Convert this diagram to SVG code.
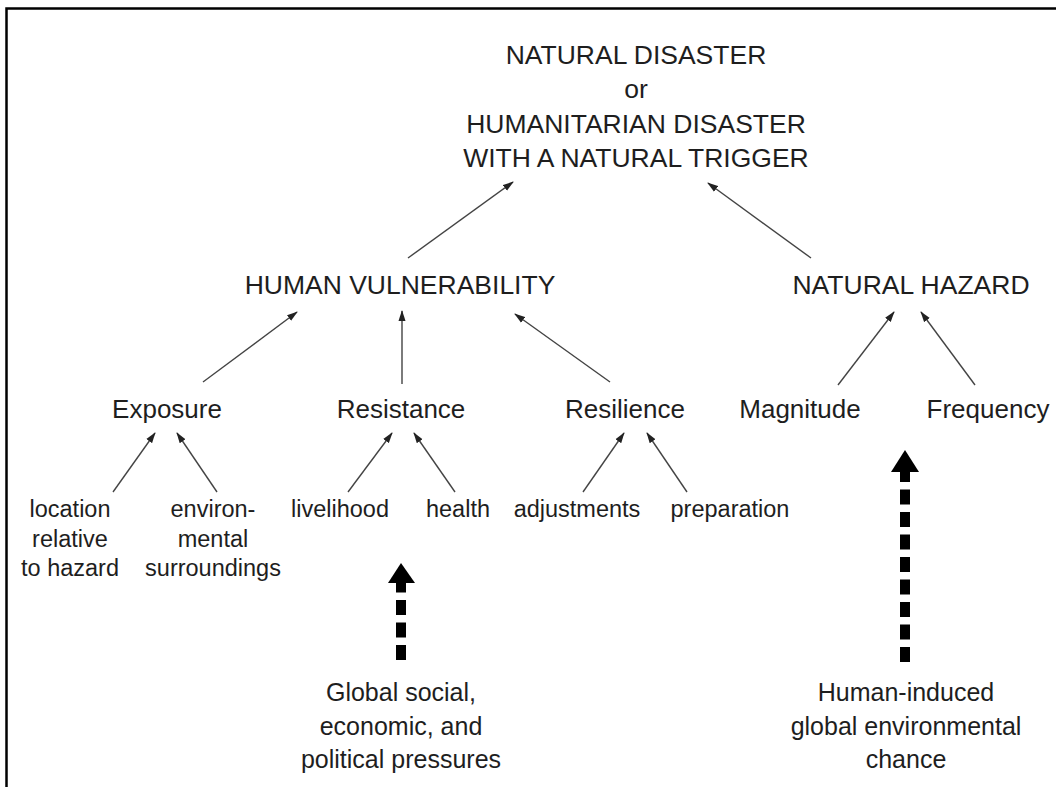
<svg xmlns="http://www.w3.org/2000/svg" width="1056" height="787" viewBox="0 0 1056 787">
<defs>
<marker id="ah" markerUnits="userSpaceOnUse" markerWidth="11" markerHeight="8" refX="10" refY="4" orient="auto">
<path d="M0,0.5 L11,4 L0,7.5 z" fill="#222"/>
</marker>
<style>
text{font-family:"Liberation Sans",Arial,sans-serif;fill:#1e1e1e;text-anchor:middle}
.t0{font-size:26.5px}
.t1{font-size:26.5px}
.t2{font-size:26px}
.t3{font-size:23.5px}
.t4{font-size:25px}
.c{stroke:#444;stroke-width:1.4;fill:none;marker-end:url(#ah)}
.d{stroke:#000;stroke-width:10;fill:none;stroke-dasharray:15 7.5}
.frame{stroke:#000;stroke-width:2.5;fill:none}
</style>
</defs>
<rect width="1056" height="787" fill="#fff"/>
<path class="frame" d="M6.5,787 V8.5 H1056"/>

<g id="connectors">
<line class="c" x1="408" y1="258" x2="513" y2="182"/>
<line class="c" x1="811" y1="258" x2="708" y2="183"/>
<line class="c" x1="203" y1="382" x2="297" y2="312"/>
<line class="c" x1="402" y1="384" x2="402" y2="311"/>
<line class="c" x1="610" y1="382" x2="515" y2="314"/>
<line class="c" x1="838" y1="385" x2="894" y2="312"/>
<line class="c" x1="975" y1="385" x2="921" y2="312"/>
<line class="c" x1="113" y1="492" x2="155" y2="433"/>
<line class="c" x1="217" y1="492" x2="177" y2="433"/>
<line class="c" x1="348" y1="492" x2="392" y2="433"/>
<line class="c" x1="455" y1="492" x2="414" y2="433"/>
<line class="c" x1="583" y1="492" x2="624" y2="433"/>
<line class="c" x1="687" y1="492" x2="647" y2="433"/>
<g id="pressure-arrow">
<line class="d" x1="401" y1="660" x2="401" y2="583"/>
<polygon points="401,563 415,583 388,583" fill="#000"/>
</g>
<g id="change-arrow">
<line class="d" x1="905" y1="662" x2="905" y2="471"/>
<polygon points="905,450 919,472 891,472" fill="#000"/>
</g>
</g>

<g id="natural-disaster">
<text class="t0" x="636" y="64">NATURAL DISASTER</text>
<text class="t0" x="636" y="98">or</text>
<text class="t0" x="636" y="133">HUMANITARIAN DISASTER</text>
<text class="t0" x="636" y="167">WITH A NATURAL TRIGGER</text>
</g>
<g id="human-vulnerability"><text class="t1" x="400" y="294">HUMAN VULNERABILITY</text></g>
<g id="natural-hazard"><text class="t1" x="911" y="294">NATURAL HAZARD</text></g>

<g id="exposure"><text class="t2" x="167" y="418">Exposure</text></g>
<g id="resistance"><text class="t2" x="401" y="418">Resistance</text></g>
<g id="resilience"><text class="t2" x="625" y="418">Resilience</text></g>
<g id="magnitude"><text class="t2" x="800" y="418">Magnitude</text></g>
<g id="frequency"><text class="t2" x="988" y="418">Frequency</text></g>

<g id="location">
<text class="t3" x="70" y="517">location</text>
<text class="t3" x="70" y="547">relative</text>
<text class="t3" x="70" y="576">to hazard</text>
</g>
<g id="environmental">
<text class="t3" x="213" y="517">environ-</text>
<text class="t3" x="213" y="547">mental</text>
<text class="t3" x="213" y="576">surroundings</text>
</g>
<g id="livelihood"><text class="t3" x="340" y="517">livelihood</text></g>
<g id="health"><text class="t3" x="458" y="517">health</text></g>
<g id="adjustments"><text class="t3" x="577" y="517">adjustments</text></g>
<g id="preparation"><text class="t3" x="730" y="517">preparation</text></g>

<g id="global-pressures">
<text class="t4" x="401" y="701">Global social,</text>
<text class="t4" x="401" y="735">economic, and</text>
<text class="t4" x="401" y="768">political pressures</text>
</g>
<g id="global-change">
<text class="t4" x="906" y="701">Human-induced</text>
<text class="t4" x="906" y="735">global environmental</text>
<text class="t4" x="906" y="768">chance</text>
</g>
</svg>
